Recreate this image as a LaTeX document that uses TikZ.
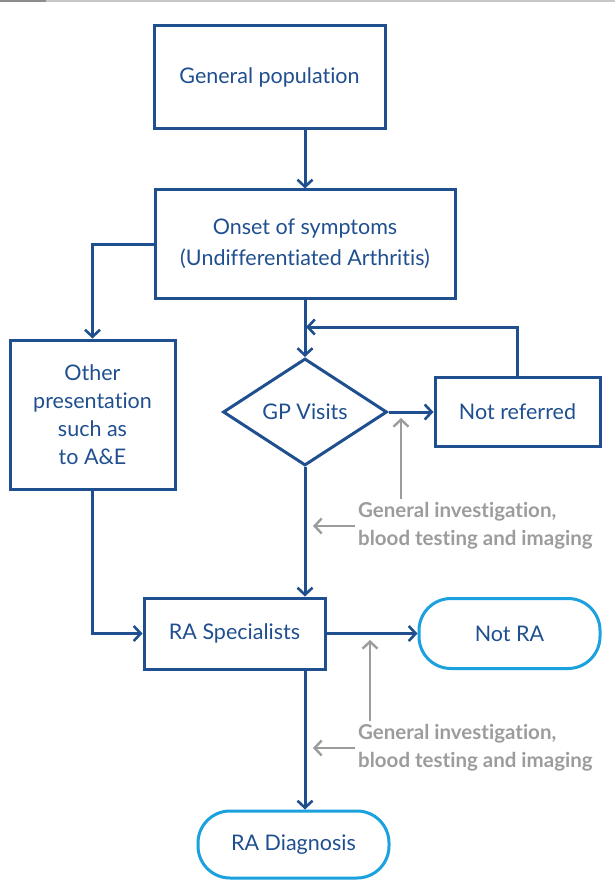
\documentclass[tikz,border=0pt]{standalone}
\usepackage{fontspec}
\setmainfont{Lato}[Ligatures=NoCommon]
\usetikzlibrary{arrows.meta,shapes.geometric}
\definecolor{nhsblue}{HTML}{1F4F8F}
\definecolor{nhscyan}{HTML}{1BA1DD}
\definecolor{notegrey}{HTML}{9C9C9C}
\begin{document}
\begin{tikzpicture}[x=1pt,y=-1pt,
    box/.style={draw=nhsblue,line width=3,text=nhsblue,inner sep=0,align=center,font=\fontsize{21.5}{28}\selectfont},
    pill/.style={box,draw=nhscyan,rounded corners=32},
    decision/.style={box,diamond,aspect=1.5},
    note/.style={text=notegrey,align=left,anchor=west,inner sep=3,font=\fontsize{20.5}{28}\selectfont\bfseries},
    arr/.style={draw=nhsblue,line width=3,-{Straight Barb[length=7,width=15,line width=2.6]}},
    grarr/.style={draw=notegrey,line width=2.6,-{Straight Barb[length=7,width=15,line width=2.4]}}]
  \useasboundingbox (0,0) rectangle (615,885);
  \draw[line width=2,black!22] (0,1) -- (615,1);
  \draw[line width=2,black!45] (0,1) -- (46,1);

  \node[box,minimum width=231,minimum height=103] (population) at (269.5,77) {General population};
  \node[box,minimum width=300,minimum height=108] (onset) at (305,244) {Onset of symptoms\\[3pt](Undifferentiated Arthritis)};
  \node[box,minimum width=165,minimum height=149] (other) at (92.5,414.5) {Other\\presentation\\such as\\to A\&E};
  \node[decision,minimum width=164,minimum height=107] (gp) at (305,412) {GP Visits};
  \node[box,minimum width=165,minimum height=69] (notref) at (517.5,412) {Not referred};
  \node[box,minimum width=181,minimum height=71] (ra) at (234.5,633.5) {RA Specialists};
  \node[pill,minimum width=181,minimum height=70] (notra) at (509.5,633.5) {Not RA};
  \node[pill,minimum width=191,minimum height=67] (diagnosis) at (293.5,844.5) {RA Diagnosis};

  \node[note] (invgp) at (355,526) {General investigation,\\blood testing and imaging};
  \node[note] (invra) at (355,748) {General investigation,\\blood testing and imaging};

  \coordinate (loop) at (306,327);
  \coordinate (gpmark) at (401,418);
  \coordinate (ramark) at (370,640);

  \draw[arr] (onset.north |- population.south) -- (onset.north);
  \draw[arr] (onset.west) -| (other.north);
  \draw[arr] (onset.south) -- (gp.north);
  \draw[arr] (gp.east) -- (notref.west);
  \draw[arr] (notref.north) |- (loop);
  \draw[arr] (gp.south) -- (gp.south |- ra.north);
  \draw[arr] (other.south) |- (ra.west);
  \draw[arr] (ra.east) -- (notra.west);
  \draw[arr] (gp.south |- ra.south) -- (gp.south |- diagnosis.north);

  \draw[grarr] (invgp.west) -- (invgp.west -| gp.south) [shorten >=8];
  \draw[grarr] (invgp.north -| gpmark) -- (gpmark);
  \draw[grarr] (invra.west) -- (invra.west -| gp.south) [shorten >=8];
  \draw[grarr] (invra.north -| ramark) -- (ramark);
\end{tikzpicture}
\end{document}
